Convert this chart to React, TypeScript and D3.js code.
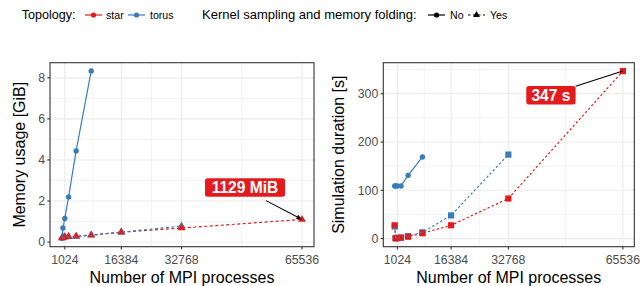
import React from "react";
import * as d3 from "d3";

// number of MPI processes
const procs = [256, 512, 1024, 2048, 4096, 8192, 16384, 32768, 65536];
const xTicks = [1024, 16384, 32768, 65536];

// memory usage [GiB]
const memTorusNo = [0.18, 0.68, 1.15, 2.2, 4.44, 8.33];
const memTorusYes = [0.2, 0.22, 0.24, 0.26, 0.27, 0.33, 0.48, 0.78];
const memStarYes = [0.2, 0.24, 0.25, 0.27, 0.28, 0.34, 0.48, 0.68, 1.1];
const memTicks = [0, 2, 4, 6, 8];

// simulation duration [s]
const durTorusNo = [109, 109, 109, 109, 131, 169];
const durTorusYes = [25, 1, 1, 2, 5, 13, 48, 174];
const durStarYes = [27.5, 0.5, 1, 2, 4, 11, 27.5, 83, 347];
const durTicks = [0, 100, 200, 300];

const RED = "#E41A1C";
const BLUE = "#377EB8";
const FONT = "'Liberation Sans', Arial, sans-serif";

const top = 62.7, bottom = 246.7;

const expand = (lo: number, hi: number) => {
  const r = hi - lo;
  return [lo - r * 0.05, hi + r * 0.05];
};

const mids = (t: number[]) => t.slice(1).map((v, i) => (v + t[i]) / 2);

type Series = { vals: number[]; color: string; dash: string | null; shape: string };

function Panel({ x0, x1, yDomain, yTicks, yMinor, series, lineOrder, title, titleX, label }: any) {
  const x = d3.scaleLinear().domain(expand(256, 65536)).range([x0, x1]);
  const y = d3.scaleLinear().domain(yDomain).range([bottom, top]);
  const line = d3.line<number>().x((d, i) => x(procs[i])).y(d => y(d));
  const tri = d3.symbol().type(d3.symbolTriangle).size(27)();
  const sq = d3.symbol().type(d3.symbolSquare).size(38)();
  const [lx, ly] = [x(label.x), y(label.y)];
  const [px, py] = [x(label.px), y(label.py)];
  const bw = label.w, bh = 18.4;
  // arrow start at box edge
  const sx = label.fromSide ? lx + bw / 2 : lx + label.dx;
  const sy = label.fromSide ? ly - 9 : ly + bh / 2 + 4;
  const ang = Math.atan2(py - sy, px - sx);
  const ah = 6;
  return (
    <g>
      <rect x={x0} y={top} width={x1 - x0} height={bottom - top} fill="white" />
      {mids(xTicks).map(v => (
        <line key={"xm" + v} x1={x(v)} x2={x(v)} y1={top} y2={bottom} stroke="#EBEBEB" strokeWidth={0.6} />
      ))}
      {yMinor.map((v: number) => (
        <line key={"ym" + v} x1={x0} x2={x1} y1={y(v)} y2={y(v)} stroke="#EBEBEB" strokeWidth={0.6} />
      ))}
      {xTicks.map(v => (
        <line key={"xg" + v} x1={x(v)} x2={x(v)} y1={top} y2={bottom} stroke="#EBEBEB" strokeWidth={1.1} />
      ))}
      {yTicks.map((v: number) => (
        <line key={"yg" + v} x1={x0} x2={x1} y1={y(v)} y2={y(v)} stroke="#EBEBEB" strokeWidth={1.1} />
      ))}
      {series.map((s: Series, k: number) =>
        s.vals.map((v, i) =>
          s.shape === "circle" ? (
            <circle key={k + "p" + i} cx={x(procs[i])} cy={y(v)} r={2.7} fill={s.color} />
          ) : (
            <path key={k + "p" + i} d={s.shape === "tri" ? tri : sq} transform={`translate(${x(procs[i])},${y(v)})`} fill={s.color} />
          )
        )
      )}
      {lineOrder.map((k: number) => {
        const s: Series = series[k];
        return (
          <path key={"l" + k} d={line(s.vals) || ""} fill="none" stroke={s.color} strokeWidth={1.2}
            strokeDasharray={s.dash || undefined} />
        );
      })}
      <rect x={x0} y={top} width={x1 - x0} height={bottom - top} fill="none" stroke="#333333" strokeWidth={1.1} />
      {xTicks.map(v => (
        <g key={"xt" + v}>
          <line x1={x(v)} x2={x(v)} y1={bottom} y2={bottom + 2.7} stroke="#333333" strokeWidth={1.1} />
          <text x={x(v)} y={bottom + 17.5} textAnchor="middle" fontSize={12.3} fill="#4D4D4D">{v}</text>
        </g>
      ))}
      {yTicks.map((v: number) => (
        <g key={"yt" + v}>
          <line x1={x0 - 2.7} x2={x0} y1={y(v)} y2={y(v)} stroke="#333333" strokeWidth={1.1} />
          <text x={x0 - 5} y={y(v) + 4.4} textAnchor="end" fontSize={12.3} fill="#4D4D4D">{v}</text>
        </g>
      ))}
      <text x={(x0 + x1) / 2} y={283} textAnchor="middle" fontSize={16}>Number of MPI processes</text>
      <text transform={`translate(${titleX},${(top + bottom) / 2}) rotate(-90)`} textAnchor="middle" fontSize={16}>{title}</text>
      <line x1={sx} y1={sy} x2={px - Math.cos(ang) * (label.arrow ? 2 : 0)} y2={py - Math.sin(ang) * (label.arrow ? 2 : 0)} stroke="black" strokeWidth={1.1} />
      {label.arrow && (
        <path d={`M${px},${py}L${px - ah * Math.cos(ang - 0.4)},${py - ah * Math.sin(ang - 0.4)}L${px - ah * Math.cos(ang + 0.4)},${py - ah * Math.sin(ang + 0.4)}Z`} fill="black" />
      )}
      <rect x={lx - bw / 2} y={ly - bh / 2} width={bw} height={bh} rx={2.5} fill={RED} />
      <text x={lx} y={ly + 5.5} textAnchor="middle" fontSize={15.6} fontWeight="bold" fill="white">{label.text}</text>
    </g>
  );
}

function LegendKey({ x, color, dash, shape }: any) {
  const y = 15;
  const tri = d3.symbol().type(d3.symbolTriangle).size(20)();
  return (
    <g>
      <line x1={x} x2={x + 17} y1={y} y2={y} stroke={color} strokeWidth={1.2} strokeDasharray={dash || undefined} />
      {shape === "circle" ? (
        <circle cx={x + 8.5} cy={y} r={2.6} fill={color} />
      ) : (
        <path d={tri} transform={`translate(${x + 8.5},${y})`} fill={color} />
      )}
    </g>
  );
}

export default function App() {
  const memSeries: Series[] = [
    { vals: memTorusNo, color: BLUE, dash: null, shape: "circle" },
    { vals: memTorusYes, color: BLUE, dash: "3,2.5", shape: "tri" },
    { vals: memStarYes, color: RED, dash: "3,2.5", shape: "tri" },
  ];
  const durSeries: Series[] = [
    { vals: durTorusNo, color: BLUE, dash: null, shape: "circle" },
    { vals: durTorusYes, color: BLUE, dash: "2.3,2.3", shape: "sq" },
    { vals: durStarYes, color: RED, dash: "2.3,2.3", shape: "sq" },
  ];
  return (
    <svg width={640} height={286} style={{ position: "absolute", left: 0, top: 0 }} fontFamily={FONT}>
      <rect width={640} height={286} fill="white" />
      <text x={21.7} y={19.4} fontSize={12.6}>Topology:</text>
      <LegendKey x={85} color={RED} shape="circle" />
      <text x={106} y={18.8} fontSize={10.6}>star</text>
      <LegendKey x={128} color={BLUE} shape="circle" />
      <text x={150} y={18.8} fontSize={10.6}>torus</text>
      <text x={202} y={19.4} fontSize={13}>Kernel sampling and memory folding:</text>
      <LegendKey x={428} color="black" shape="circle" />
      <text x={450} y={18.8} fontSize={10.6}>No</text>
      <LegendKey x={468} color="black" dash="2.5,2.5" shape="tri" />
      <text x={490} y={18.8} fontSize={10.6}>Yes</text>
      <Panel x0={50} x1={314} yDomain={expand(0.18, 8.33)} yTicks={memTicks} yMinor={mids(memTicks)}
        series={memSeries} lineOrder={[0, 2, 1]} title="Memory usage [GiB]" titleX={25}
        label={{ text: "1129 MiB", x: 50040, y: 2.66, px: 65536, py: 1.1, w: 80, dx: 21, arrow: true, fromSide: false }} />
      <Panel x0={383.3} x1={634.3} yDomain={expand(0.5, 347)} yTicks={durTicks} yMinor={[...mids(durTicks), 350]}
        series={durSeries} lineOrder={[0, 2, 1]} title="Simulation duration [s]" titleX={344}
        label={{ text: "347 s", x: 44950, y: 297, px: 65536, py: 347, w: 49.3, dx: 0, arrow: false, fromSide: true }} />
    </svg>
  );
}
